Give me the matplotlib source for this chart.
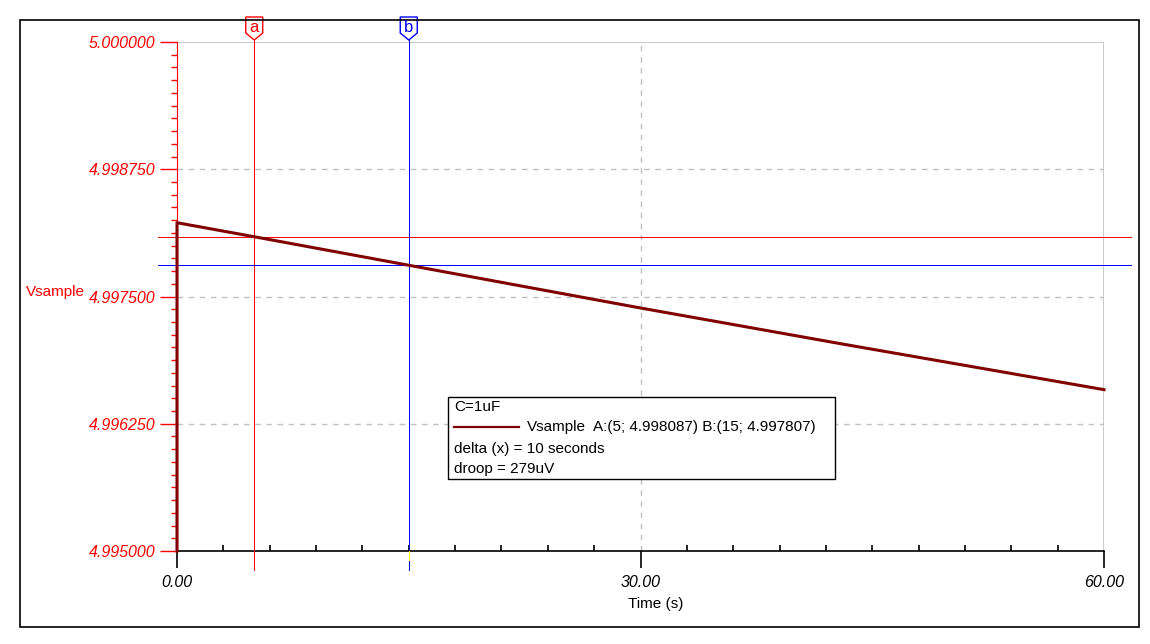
import numpy as np
import matplotlib
matplotlib.use('Agg')
import matplotlib.pyplot as plt
from matplotlib.patches import Rectangle, Polygon
from matplotlib.ticker import FixedLocator, MultipleLocator
from matplotlib.transforms import blended_transform_factory, IdentityTransform

plt.rcParams['font.family'] = ['Liberation Sans', 'DejaVu Sans']

# Data
time_s = [0, 0, 5, 15, 30, 43, 60]
vsample = [4.995000, 4.998225, 4.998087, 4.997807, 4.997387, 4.997035, 4.996585]
y_ticks = [4.995, 4.99625, 4.9975, 4.99875, 5.0]
y_labels = ['4.995000', '4.996250', '4.997500', '4.998750', '5.000000']
x_ticks = [0, 30, 60]
x_labels = ['0.00', '30.00', '60.00']
cursor_a = (5, 4.998087)
cursor_b = (15, 4.997807)
legend_lines = ['C=1uF', 'Vsample', 'A:(5; 4.998087) B:(15; 4.997807)',
                'delta (x) = 10 seconds', 'droop = 279uV']

W, H = 1150, 644
RED = '#ff0000'
BLUE = '#0000ff'
DARKRED = '#800000'
GRID = '#c0c0c0'
PX = 0.72  # one pixel in points


def fx(x):
    return x / W


def fy(y):
    return 1 - y / H


fig = plt.figure(figsize=(W / 100, H / 100), dpi=100)
ax = fig.add_axes([fx(177), fy(551), 927 / W, 509 / H])
ax.set_xlim(0, 60)
ax.set_ylim(4.995, 5.0)

# grid
for y in y_ticks[1:-1]:
    ax.axhline(y, color=GRID, lw=1, ls=(0, (4, 4)), zorder=0)
ax.axvline(30, color=GRID, lw=1, ls=(0, (4, 4)), zorder=0)
ax.axhline(5.0, color=GRID, lw=1.2, zorder=0)
ax.axvline(60, color=GRID, lw=1.2, zorder=0)

# spines
ax.spines['top'].set_visible(False)
ax.spines['right'].set_visible(False)
ax.spines['left'].set_color(RED)
ax.spines['bottom'].set_color('black')
ax.spines['bottom'].set_linewidth(1.2)

# ticks
ax.set_yticks(y_ticks, labels=y_labels, fontstyle='italic')
ax.yaxis.set_minor_locator(MultipleLocator(0.000125))
ax.set_xticks(x_ticks, labels=x_labels, fontstyle='italic')
ax.xaxis.set_minor_locator(MultipleLocator(3))
ax.tick_params(axis='y', which='major', direction='out', length=12, width=1,
               colors=RED, labelsize=11.5, pad=3.5)
ax.tick_params(axis='y', which='minor', direction='out', length=4.5, width=1, colors=RED)
ax.tick_params(axis='x', which='major', direction='out', length=12, width=1.2,
               colors='black', labelsize=11.5, pad=5)
ax.tick_params(axis='x', which='minor', direction='in', length=4, width=1.2, colors='black')

# data
ax.plot(time_s, vsample, color=DARKRED, lw=2.2, zorder=5, clip_on=False)

# cursors
tr_xv = blended_transform_factory(ax.transData, ax.transAxes)
tr_yh = blended_transform_factory(ax.transAxes, ax.transData)
for (cx, cy), col in [(cursor_a, RED), (cursor_b, BLUE)]:
    ax.plot([cx, cx], [1.004, -0.037], transform=tr_xv, color=col, lw=PX,
            antialiased=False, clip_on=False, zorder=3)
    ax.plot([-0.0205, 1.029], [cy, cy], transform=tr_yh, color=col, lw=PX,
            antialiased=False, clip_on=False, zorder=3)
ax.plot([cursor_b[0]] * 2, [0, -0.018], transform=tr_xv, color='yellow', lw=PX,
        antialiased=False, clip_on=False, zorder=4)

# cursor flags
for (cx, cy), col, name in [(cursor_a, RED, 'a'), (cursor_b, BLUE, 'b')]:
    px = ax.transData.transform((cx, 5.0))[0]
    top, side, tip = H - 17, H - 33, H - 40
    flag = Polygon([(px - 8.5, top), (px + 8.5, top), (px + 8.5, side), (px, tip),
                    (px - 8.5, side)], closed=True, facecolor='white',
                   edgecolor=col, lw=1, transform=IdentityTransform())
    fig.add_artist(flag)
    fig.text(px / W, fy(28), name, color=col, fontsize=12,
             ha='center', va='center')

# legend box
fig.add_artist(Rectangle((fx(448), fy(479)), 387 / W, 82 / H, transform=fig.transFigure,
                         facecolor='white', edgecolor='black', lw=1, zorder=6))
fig.text(fx(454), fy(407), legend_lines[0], fontsize=11, va='center', zorder=7)
fig.add_artist(plt.Line2D([fx(454), fx(519)], [fy(427), fy(427)], color=DARKRED,
                          lw=1.6, transform=fig.transFigure, zorder=7))
fig.text(fx(527), fy(427), legend_lines[1], fontsize=11, va='center', zorder=7)
fig.text(fx(593), fy(427), legend_lines[2], fontsize=11, va='center', zorder=7)
fig.text(fx(454), fy(449), legend_lines[3], fontsize=11, va='center', zorder=7)
fig.text(fx(454), fy(469), legend_lines[4], fontsize=11, va='center', zorder=7)

# axis labels
fig.text(fx(26), fy(292), 'Vsample', color=RED, fontsize=11, ha='left', va='center')
fig.text(fx(656), fy(604), 'Time (s)', color='black', fontsize=11, ha='center', va='center')

# outer frame
fig.add_artist(Rectangle((fx(20), fy(627)), 1119 / W, 607 / H, transform=fig.transFigure,
                         facecolor='none', edgecolor='black', lw=1.2))

fig.savefig('out.png', dpi=100)
